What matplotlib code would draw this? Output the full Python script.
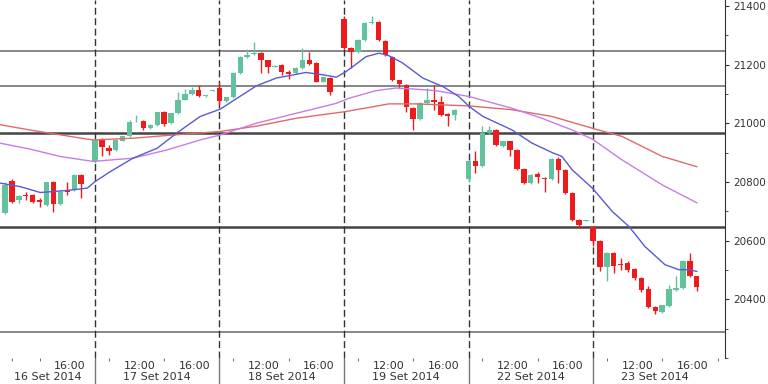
import numpy as np
import matplotlib.pyplot as plt
from matplotlib.transforms import blended_transform_factory

# 30-min bars, 18 slots per session (09:00 .. 17:30); session d starts at slot 18*d
day_labels = ['16 Set 2014', '17 Set 2014', '18 Set 2014', '19 Set 2014', '22 Set 2014', '23 Set 2014']

slots = [5, 6, 7, 8, 9, 10, 11, 12, 13, 14, 15, 16,
         18, 19, 20, 21, 22, 23, 24, 25, 26, 27, 28, 29, 30, 31, 32, 33, 34, 35,
         36, 37, 38, 39, 40, 41, 42, 43, 44, 45, 46, 47, 48, 49, 50, 51, 52,
         54, 55, 56, 57, 58, 59, 60, 61, 62, 63, 64, 65, 66, 67, 68, 69, 70,
         72, 73, 74, 75, 76, 77, 78, 79, 80, 81, 82, 83, 84, 85, 86, 87, 88, 89,
         90, 91, 92, 93, 94, 95, 96, 97, 98, 99, 100, 101, 102, 103, 104, 105]
opens = [20695, 20804, 20737, 20756, 20754, 20737, 20722, 20799, 20724, 20773, 20773, 20822,
         20870, 20943, 20917, 20909, 20941, 20955, 21006, 21006, 20983, 20995, 21040, 21000, 21034, 21080, 21099, 21114, 21093, 21111,
         21120, 21076, 21088, 21171, 21225, 21235, 21241, 21214, 21193, 21199, 21173, 21171, 21188, 21216, 21205, 21142, 21154,
         21355, 21256, 21244, 21284, 21341, 21344, 21281, 21227, 21146, 21131, 21051, 21014, 21068, 21080, 21074, 21032, 21029,
         20810, 20870, 20855, 20966, 20977, 20923, 20938, 20909, 20844, 20796, 20828, 20815, 20810, 20877, 20841, 20762, 20671, 20668,
         20646, 20600, 20510, 20557, 20517, 20523, 20503, 20472, 20436, 20375, 20358, 20378, 20432, 20438, 20531, 20478]
highs = [20800, 20811, 20755, 20767, 20758, 20746, 20801, 20804, 20772, 20801, 20826, 20826,
         20945, 20949, 20926, 20945, 20958, 21012, 21029, 21011, 20997, 21040, 21043, 21036, 21108, 21118, 21123, 21131, 21096, 21113,
         21140, 21090, 21173, 21228, 21254, 21278, 21244, 21217, 21199, 21202, 21182, 21190, 21256, 21244, 21208, 21159, 21157,
         21364, 21259, 21287, 21345, 21364, 21347, 21284, 21230, 21149, 21134, 21054, 21071, 21120, 21131, 21093, 21035, 21049,
         20876, 20904, 20989, 20991, 20982, 20941, 20941, 20912, 20847, 20827, 20835, 20818, 20880, 20885, 20844, 20765, 20675, 20669,
         20650, 20603, 20560, 20560, 20540, 20530, 20506, 20475, 20446, 20378, 20381, 20449, 20478, 20534, 20557, 20481]
lows = [20690, 20729, 20727, 20739, 20729, 20716, 20718, 20696, 20720, 20756, 20770, 20745,
        20865, 20887, 20892, 20905, 20938, 20952, 21003, 20978, 20980, 20992, 20989, 20997, 21031, 21078, 21096, 21090, 21091, 21110,
        21063, 21072, 21085, 21168, 21222, 21232, 21171, 21171, 21190, 21163, 21150, 21168, 21185, 21198, 21139, 21139, 21097,
        21253, 21188, 21241, 21281, 21338, 21281, 21230, 21145, 21120, 21040, 20978, 21011, 21065, 21046, 21026, 20989, 21012,
        20800, 20830, 20852, 20963, 20923, 20920, 20887, 20841, 20793, 20793, 20796, 20767, 20807, 20796, 20759, 20668, 20643, 20667,
        20580, 20495, 20461, 20489, 20500, 20493, 20466, 20425, 20372, 20351, 20352, 20375, 20429, 20435, 20475, 20430]
closes = [20790, 20733, 20753, 20751, 20731, 20733, 20799, 20724, 20767, 20764, 20822, 20793,
          20943, 20919, 20907, 20943, 20955, 21004, 21008, 20983, 20995, 21037, 20998, 21034, 21080, 21099, 21114, 21093, 21094, 21112,
          21077, 21088, 21171, 21225, 21233, 21241, 21216, 21193, 21196, 21173, 21168, 21188, 21214, 21201, 21142, 21156, 21108,
          21256, 21244, 21284, 21341, 21343, 21284, 21233, 21148, 21134, 21057, 21014, 21068, 21080, 21074, 21029, 21025, 21046,
          20873, 20855, 20968, 20977, 20926, 20938, 20909, 20844, 20796, 20824, 20816, 20810, 20877, 20839, 20762, 20671, 20654, 20668,
          20600, 20510, 20557, 20514, 20516, 20500, 20472, 20432, 20375, 20361, 20379, 20435, 20440, 20531, 20478, 20442]

# moving averages
blue_x = [4.3, 7.2, 10.1, 14.0, 16.9, 18.0, 20.2, 23.5, 27.0, 29.9, 33.2, 36.1, 41.3, 44.2, 48.5, 51.0, 52.9, 54.3,
          57.2, 59.1, 60.5, 62.5, 65.4, 68.3, 70.6, 72.1, 74.1, 78.3, 81.2, 84.1, 85.5, 87.0, 89.9, 92.8, 95.2,
          97.5, 100.4, 102.4, 103.9, 105.0]
blue_y = [20796, 20784, 20764, 20771, 20779, 20801, 20835, 20881, 20915, 20968, 21023, 21048, 21127, 21154, 21173, 21165, 21157, 21176,
          21227, 21239, 21230, 21205, 21154, 21125, 21091, 21057, 21023, 20977, 20932, 20900, 20887, 20841, 20779, 20699, 20648,
          20580, 20518, 20501, 20501, 20495]
violet_x = [4.3, 8.6, 12.9, 17.7, 23.5, 28.4, 33.2, 36.1, 41.3, 47.1, 52.9, 54.7, 58.6, 61.5, 64.4, 67.3, 72.1,
            78.3, 82.6, 87.0, 89.9, 94.2, 100.0, 105.0]
violet_y = [20932, 20912, 20887, 20870, 20881, 20909, 20943, 20960, 21000, 21034, 21068, 21085, 21111, 21120, 21116, 21111, 21091,
            21051, 21017, 20977, 20946, 20875, 20790, 20729]
red_x = [4.3, 8.6, 11.5, 17.7, 23.5, 29.3, 36.1, 41.3, 47.1, 54.3, 60.5, 64.4, 72.1, 78.3, 84.1, 89.9, 94.2, 100.0, 105.0]
red_y = [20995, 20977, 20966, 20943, 20949, 20960, 20972, 20990, 21017, 21040, 21066, 21066, 21059, 21046, 21023, 20983, 20955,
         20887, 20852]

levels_thin = [21247, 21128, 20289]
levels_thick = [20967, 20648]

GREEN = '#62c29d'
RED = '#ec1c1c'

fig = plt.figure(figsize=(7.68, 3.84), dpi=100)
ax = fig.add_axes([0, 26 / 384, 725 / 768, 358 / 384])

for lv in levels_thin:
    ax.axhline(lv, color='#666666', lw=1.1, zorder=1)
for lv in levels_thick:
    ax.axhline(lv, color='#444444', lw=1.8, zorder=1)

bounds = [18 * d for d in range(1, 6)]
for b in bounds:
    ax.axvline(b, color='#333333', lw=1, ls=(0, (5, 2.5)), zorder=1)

x = np.array(slots)
o = np.array(opens)
h = np.array(highs)
l = np.array(lows)
c = np.array(closes)
cols = np.where(c >= o, GREEN, RED)
ax.vlines(x, l, h, colors=cols, lw=1, zorder=3)
ax.bar(x, np.maximum(np.abs(c - o), 3), bottom=np.minimum(o, c), width=0.78,
       color=cols, linewidth=0, zorder=4)

ax.plot(red_x, red_y, color='#e06a6a', lw=1, zorder=5)
ax.plot(violet_x, violet_y, color='#c47ee6', lw=1, zorder=5)
ax.plot(blue_x, blue_y, color='#5a5ad2', lw=1, zorder=5)

ax.set_xlim(4.27, 109.08)
ax.set_ylim(20200, 21420)

for s in ['left', 'top', 'bottom']:
    ax.spines[s].set_visible(False)
ax.spines['right'].set_color('#333333')

ax.yaxis.tick_right()
ax.set_yticks(range(20400, 21401, 200))
ax.set_yticks([20200, 20300, 20500, 20700, 20900, 21100, 21300], minor=True)
ax.tick_params(axis='y', which='major', length=3, pad=3, labelsize=7.5, colors='#333333')
ax.tick_params(axis='y', which='minor', length=2.5, colors='#333333')

# time labels at 12:00 / 16:00, small ticks every two hours
major_pos, major_lab = [], []
for d in range(6):
    if d > 0:
        major_pos.append(18 * d + 6.4)
        major_lab.append('12:00')
    major_pos.append(18 * d + 14.4)
    major_lab.append('16:00')
minor_pos = [6, 10] + [18 * d + k for d in range(1, 6) for k in (2, 10)] + [108]
ax.set_xticks(major_pos)
ax.set_xticklabels(major_lab)
ax.set_xticks(minor_pos, minor=True)
ax.tick_params(axis='x', which='major', length=0, pad=2, labelsize=8, colors='#333333')
ax.tick_params(axis='x', which='minor', length=2.5, colors='#555555')

trans = blended_transform_factory(ax.transData, ax.transAxes)
lo, hi = ax.get_xlim()
for d, lab in enumerate(day_labels):
    a = max(18 * d, lo)
    b = min(18 * (d + 1), hi)
    ax.text((a + b) / 2, -0.054, lab, transform=trans, ha='center', va='center',
            fontsize=8, color='#333333', clip_on=False)
for b in bounds:
    ax.plot([b, b], [0, -0.08], transform=trans, color='#777777', lw=1, clip_on=False)

fig.savefig('out.png', dpi=100)
